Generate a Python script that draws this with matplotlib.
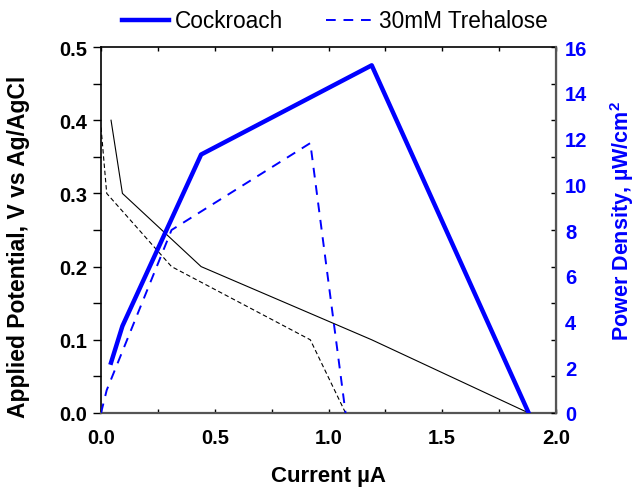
import matplotlib
matplotlib.use("Agg")
import matplotlib.pyplot as plt
from matplotlib.ticker import MultipleLocator

plt.rcParams['font.family'] = ['Liberation Sans', 'DejaVu Sans']
plt.rcParams['mathtext.fontset'] = 'custom'
plt.rcParams['mathtext.bf'] = 'Liberation Sans:bold'
plt.rcParams['mathtext.rm'] = 'Liberation Sans:bold'

# Cockroach
current_cock = [0.044, 0.094, 0.44, 1.19, 1.88]
potential_cock = [0.40, 0.30, 0.20, 0.10, 0.0]
power_cock = [2.2, 3.8, 11.3, 15.2, 0.0]

# 30mM Trehalose
current_tre = [0.0, 0.025, 0.31, 0.92, 1.075]
potential_tre = [0.39, 0.30, 0.20, 0.10, 0.0]
power_tre = [0.0, 1.0, 8.0, 11.8, 0.0]

x_ticks = [0.0, 0.5, 1.0, 1.5, 2.0]
y_ticks = [0.0, 0.1, 0.2, 0.3, 0.4, 0.5]
p_ticks = [0, 2, 4, 6, 8, 10, 12, 14, 16]

fig = plt.figure(figsize=(6.37, 4.89), dpi=100)
ax = fig.add_axes([0.1586, 0.1534, 0.7142, 0.7484])
ax.plot(current_cock, potential_cock, color='black', lw=0.8)
ax.plot(current_tre, potential_tre, color='black', lw=0.8, ls=(0, (4, 2.5)))
ax.set_xlim(0, 2.0)
ax.set_ylim(0, 0.5)
ax.set_xticks(x_ticks)
ax.set_yticks(y_ticks)
ax.xaxis.set_minor_locator(MultipleLocator(0.25))
ax.yaxis.set_minor_locator(MultipleLocator(0.05))
ax.set_xticklabels([f"{v:.1f}" for v in x_ticks])
ax.set_yticklabels([f"{v:.1f}" for v in y_ticks])
ax.tick_params(axis='x', which='both', direction='in', top=True, bottom=True, length=3, width=1, pad=11)
ax.tick_params(axis='y', which='both', direction='out', left=True, right=False, length=6, width=1, pad=4)
ax.tick_params(labelsize=14.5)
for lab in ax.get_xticklabels() + ax.get_yticklabels():
    lab.set_fontweight('bold')
ax.set_xlabel('Current \u00b5A', fontsize=16, fontweight='bold')
ax.xaxis.set_label_coords(0.5, -0.142)
ax.set_ylabel('Applied Potential, V vs Ag/AgCl', fontsize=16.5, fontweight='bold')
ax.yaxis.set_label_coords(-0.156, 0.456)
ax.spines['bottom'].set_color('#555555')
ax.spines['bottom'].set_linewidth(1.6)
ax.spines['left'].set_linewidth(1.2)
ax.spines['top'].set_linewidth(1.2)

# inward right ticks mirroring left axis
ax3 = ax.twinx()
ax3.set_ylim(0, 0.5)
ax3.yaxis.set_major_locator(MultipleLocator(0.1))
ax3.yaxis.set_minor_locator(MultipleLocator(0.05))
ax3.tick_params(axis='y', which='both', direction='in', length=3.5, width=1, labelright=False)
for s in ax3.spines.values():
    s.set_visible(False)

ax2 = ax.twinx()
l1, = ax2.plot(current_cock, power_cock, color='#0000ff', lw=3.2, label='Cockroach')
l2, = ax2.plot(current_tre, power_tre, color='#0000ff', lw=1.4, ls=(0, (5, 4)), label='30mM Trehalose')
ax2.set_ylim(0, 16)
ax2.set_yticks(p_ticks)
ax2.tick_params(axis='y', length=0, pad=6.5, labelsize=14.5, labelcolor='#0000ff')
for lab in ax2.get_yticklabels():
    lab.set_fontweight('bold')
ax2.set_ylabel('Power Density, \u00b5W/cm$^{\\mathbf{2}}$', fontsize=15.5, fontweight='bold', color='#0000ff')
ax2.yaxis.set_label_coords(1.114, 0.527)
ax2.spines['right'].set_color('#555555')
ax2.spines['right'].set_linewidth(1.6)
for k in ['left', 'top', 'bottom']:
    ax2.spines[k].set_visible(False)

fig.legend(handles=[l1, l2], loc='center', bbox_to_anchor=(335 / 637, 1 - 22 / 489), ncol=2,
           frameon=False, fontsize=16.3, handlelength=2.1, columnspacing=1.9, handletextpad=0.25,
           borderpad=0, borderaxespad=0)

fig.savefig('out.png', dpi=100)
